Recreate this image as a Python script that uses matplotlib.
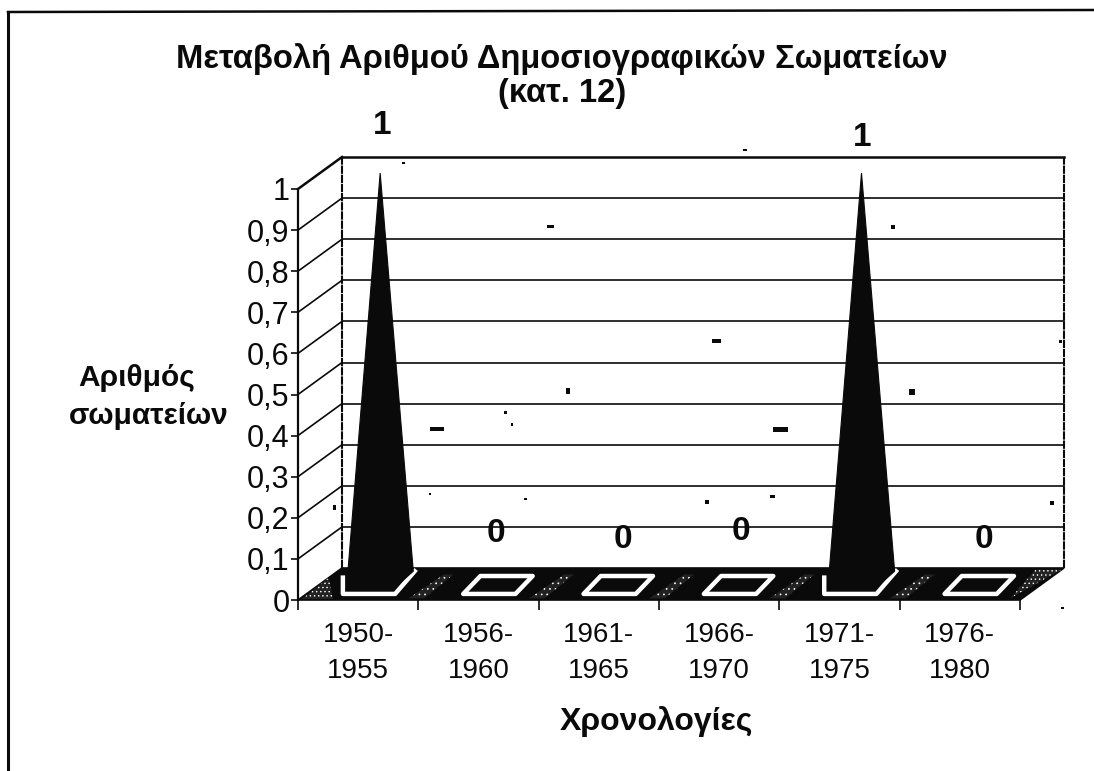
import matplotlib
matplotlib.use("Agg")
import matplotlib.pyplot as plt
from matplotlib.patches import Polygon

plt.rcParams['font.family'] = ['Liberation Sans', 'DejaVu Sans']
plt.rcParams['hatch.linewidth'] = 0.5

categories = ["1950-\n1955", "1956-\n1960", "1961-\n1965", "1966-\n1970", "1971-\n1975", "1976-\n1980"]
values = [1, 0, 0, 0, 1, 0]
y_ticks = [0, 0.1, 0.2, 0.3, 0.4, 0.5, 0.6, 0.7, 0.8, 0.9, 1]
y_labels = ["0", "0,1", "0,2", "0,3", "0,4", "0,5", "0,6", "0,7", "0,8", "0,9", "1"]
title = "Μεταβολή Αριθμού Δημοσιογραφικών Σωματείων\n(κατ. 12)"
x_title = "Χρονολογίες"
y_title = ["Αριθμός", "σωματείων"]

# nudges for the value labels, px from the top of the mark
label_dy = [48, -32, -38, -30, 36, -38]
label_dx = [2, -5, 2, 0, 1, 2]
# scan specks, figure px
specks = [(437, 429, 14, 4), (550, 226, 7, 3), (568, 391, 4, 6), (716, 341, 9, 4), (780, 429, 15, 5),
          (893, 227, 4, 4), (912, 392, 6, 6), (403, 163, 3, 2), (505, 412, 3, 3), (512, 424, 2, 3),
          (707, 502, 4, 4), (772, 496, 5, 3), (1052, 503, 4, 4), (430, 494, 2, 2), (525, 499, 3, 2),
          (334, 507, 3, 5), (745, 150, 4, 2), (1060, 341, 3, 3), (1062, 608, 3, 2)]

W, H = 1094, 771
fig = plt.figure(figsize=(W / 100, H / 100), dpi=100, facecolor="white")
ax = fig.add_axes([298 / W, (H - 600) / H, 722 / W, 411 / H])
ax.set_xlim(0, 6)
ax.set_ylim(0, 1)
ax.patch.set_alpha(0)
for s in ["top", "right", "bottom"]:
    ax.spines[s].set_visible(False)
ax.spines["left"].set_linewidth(1.6)

# depth of the 3d box, in data units
DX = 44 / 120.33
DY = 32 / 411


def pt(x, y, d):
    return (x + d * DX, y + d * DY)


K = "#0a0a0a"
# walls and gridlines
for y in y_ticks:
    lw = 1.8 if y == 1 else 1.2
    if y > 0:
        ax.plot([pt(0, y, 0)[0], pt(0, y, 1)[0]], [pt(0, y, 0)[1], pt(0, y, 1)[1]], color=K, lw=lw, clip_on=False)
        ax.plot([pt(0, y, 1)[0], pt(6, y, 1)[0]], [pt(0, y, 1)[1], pt(6, y, 1)[1]], color=K, lw=lw, clip_on=False)
ax.plot([pt(0, 0, 1)[0], pt(0, 1, 1)[0]], [pt(0, 0, 1)[1], pt(0, 1, 1)[1]], color=K, lw=1.5, ls=(0, (4, 0.4)), clip_on=False)
ax.plot([pt(6, 0, 1)[0], pt(6, 1, 1)[0]], [pt(6, 0, 1)[1], pt(6, 1, 1)[1]], color=K, lw=1.5, ls=(0, (4, 0.4)), clip_on=False)

# floor, dark with grainy ends
floor = [pt(0, 0, 0), pt(6, 0, 0), pt(6, 0, 1), pt(0, 0, 1)]
ax.add_patch(Polygon(floor, closed=True, fc=K, ec=K, lw=1.2, clip_on=False, zorder=2))
for tri in ([pt(0.02, 0, 0.03), pt(0, 0, 0.7), pt(0.28, 0, 0.03)], [pt(5.9, 0, 0.05), pt(6, 0, 0.95), pt(5.78, 0, 0.95)]):
    ax.add_patch(Polygon(tri, closed=True, fc="#222222", ec="white", hatch="....", lw=0, clip_on=False, zorder=2.1))
for i in range(5):
    ax.add_patch(Polygon([pt(i + 0.9, 0, 0.05), pt(i + 1.03, 0, 0.05), pt(i + 1.0, 0, 0.8), pt(i + 0.92, 0, 0.8)],
                         closed=True, fc="#222222", ec="white", hatch="...", lw=0, clip_on=False, zorder=2.1))

# bases and pyramids
for i, v in enumerate(values):
    c = i + 0.5
    fl, bk = 0.19, 0.75
    half = 0.217
    if v > 0:
        front_l = (c + 0.09 - half, fl * DY)
        front_r = (c + 0.09 + half, fl * DY)
        back_r = (c + 0.233 + half + 0.02, 0.9 * DY)
        back_l = (front_l[0], 0.7 * DY)
        ax.plot([back_l[0], front_l[0], front_r[0], back_r[0]], [back_l[1], front_l[1], front_r[1], back_r[1]],
                color="white", lw=3.2, solid_joinstyle="round", clip_on=False, zorder=3)
        apex = pt(c, v, 0.5)
        sil = [(front_l[0] + 0.03, front_l[1] + 0.012), (front_r[0] - 0.015, front_r[1] + 0.012),
               (back_r[0] - 0.012, back_r[1]), apex]
        ax.add_patch(Polygon(sil, closed=True, fc=K, ec=K, lw=0.8, clip_on=False, zorder=4))
        xy = apex
    else:
        base = [(c + 0.09 - half, fl), (c + 0.09 + half, fl), (c + 0.233 + half, bk), (c + 0.233 - half, bk)]
        base = [(px, d * DY) for px, d in base]
        ax.add_patch(Polygon(base, closed=True, fc=K, ec="white", lw=3.2, joinstyle="round", clip_on=False, zorder=3))
        xy = pt(c, 0.2, 0.5)
    ax.annotate(str(v), xy=xy, xytext=(label_dx[i] * 0.72, label_dy[i] * 0.72),
                textcoords="offset points", ha="center", va="center", fontsize=24, fontweight="bold",
                color=K, annotation_clip=False, zorder=5)

# axes labels
ax.set_yticks(y_ticks, y_labels)
ax.tick_params(axis="y", labelsize=22, length=5, width=1.2, pad=1, colors=K)
ax.set_xticks(range(7), [""] * 7)
ax.tick_params(axis="x", length=7, width=1.2, colors=K, direction="out")
ax.spines["left"].set_color(K)
for i, lab in enumerate(categories):
    ax.annotate(lab, xy=(i + 0.5, 0), xytext=(0, -38.5), textcoords="offset points", ha="center", va="center",
                fontsize=20, color=K, linespacing=1.5, annotation_clip=False)

fig.text(562 / W, 1 - 76 / H, title, ha="center", va="center", fontsize=23.6, fontweight="bold", color=K, linespacing=1.1)
fig.text(656 / W, 1 - 722 / H, x_title, ha="center", va="center", fontsize=23, fontweight="bold", color=K)
fig.text(137 / W, 1 - 378 / H, y_title[0], ha="center", va="center", fontsize=21.5, fontweight="bold", color=K)
fig.text(149 / W, 1 - 416 / H, y_title[1], ha="center", va="center", fontsize=21.5, fontweight="bold", color=K)

# scan border and specks
fig.add_artist(plt.Line2D([8 / W, 8 / W], [0, 1 - 12 / H], color=K, lw=2.2))
fig.add_artist(plt.Line2D([8 / W, 1], [1 - 12 / H, 1 - 10 / H], color=K, lw=1.8))
for sx, sy, sw, sh in specks:
    fig.add_artist(plt.Rectangle(((sx - sw / 2) / W, 1 - (sy + sh / 2) / H), sw / W, sh / H, fc=K, ec="none", zorder=6))

fig.savefig("out.png", dpi=100)
